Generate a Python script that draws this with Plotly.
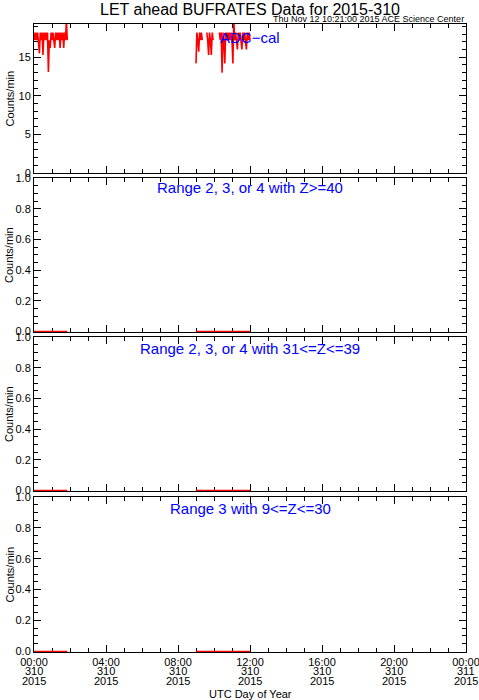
import plotly.graph_objects as go
from plotly.subplots import make_subplots

# ---- data (minutes of day 310, 2015) ----
adc_t1 = [0, 3, 6, 9, 12, 15, 18, 21, 24, 27, 30, 33, 36, 39, 42, 45, 48, 51, 54, 57,
          60, 63, 66, 69, 72, 75, 78, 81, 84, 87, 90, 93, 96, 99, 102, 105, 108, 111]
adc_v1 = [18.2, 17.2, 18.2, 17.2, 18.2, 17.2, 15.5, 18.2, 17.2, 18.2, 15.3, 18.2, 17.2, 18.2,
          17.2, 18.2, 13.1, 17.2, 16.2, 18.2, 17.2, 18.2, 17.2, 16.2, 18.2, 17.2, 18.2, 17.2,
          18.2, 16.2, 18.2, 17.2, 18.2, 16.2, 18.2, 17.2, 19.8, 17.2]

adc_t2 = [540, 543, 546, 549, 552, 555, 558, 561, 564,
          576, 579, 582, 585, 588, 591, 594, 597, 600,
          618, 621, 624, 627, 630, 633, 636, 639, 642, 645, 648, 651, 654, 657, 660, 663,
          666, 669, 672, 675, 678, 681, 684, 687, 690, 693, 696, 699, 702, 705, 708, 711,
          714, 717, 720]
adc_v2 = [14.2, 18.2, 17.2, 15.7, 18.2, 17.2, 18.2, 17.2, None,
          18.2, 17.2, 15.3, 18.2, 17.2, 15.3, 18.2, 17.2, None,
          18.2, 17.2, 18.2, 13.0, 18.2, 17.2, 14.2, 18.2, 17.2, 18.2, 17.2, 18.2, 17.2, 18.2,
          17.2, 14.2, 19.8, 17.2, 18.2, 17.2, 16.0, 18.2, 17.2, 18.2, 17.2, 16.0, 18.2, 17.2,
          18.2, 17.2, 16.0, 18.2, 17.2, 18.2, 17.2]

low_t = [0, 111, None, 540, 720]
low_v = [0, 0, None, 0, 0]

panel_labels = ["ADC−cal", "Range 2, 3, or 4 with Z>=40",
                "Range 2, 3, or 4 with 31<=Z<=39", "Range 3 with 9<=Z<=30"]
tick_hours = [0, 4, 8, 12, 16, 20, 24]
tick_time = ["00:00", "04:00", "08:00", "12:00", "16:00", "20:00", "00:00"]
tick_day = ["310", "310", "310", "310", "310", "310", "311"]
tick_year = ["2015"] * 7

W, H = 479, 700
L, R, T, B = 34, 13, 24, 48
plot_h = H - T - B
def fy(px):
    return (H - B - px) / plot_h

domains = [(fy(173), 1.0), (fy(332), fy(178)), (fy(491), fy(337)), (0.0, fy(497))]

fig = make_subplots(rows=4, cols=1, shared_xaxes=False)

red = dict(color="#ff0000", width=1.6)
fig.add_trace(go.Scatter(x=[t / 60 for t in adc_t1], y=adc_v1, mode="lines", line=red,
                         connectgaps=False, showlegend=False, hoverinfo="skip"), row=1, col=1)
fig.add_trace(go.Scatter(x=[t / 60 if t is not None else None for t in adc_t2], y=adc_v2,
                         mode="lines", line=red, connectgaps=False, showlegend=False,
                         hoverinfo="skip"), row=1, col=1)
for r in (2, 3, 4):
    fig.add_trace(go.Scatter(x=[t / 60 if t is not None else None for t in low_t], y=low_v,
                             mode="lines", line=dict(color="#ff0000", width=1.5),
                             connectgaps=False, showlegend=False, hoverinfo="skip"),
                  row=r, col=1)

font = "Liberation Sans, Arial, sans-serif"
for i in range(4):
    n = "" if i == 0 else str(i + 1)
    fig.layout["yaxis" + n].domain = domains[i]
    fig.layout["xaxis" + n].update(
        domain=[0, 1], range=[0, 24], tickvals=tick_hours,
        ticktext=tick_time if i == 3 else [""] * 7, automargin=False,
        ticklabeloverflow="allow",
        ticks="inside", ticklen=7, tickwidth=1, tickcolor="black",
        minor=dict(dtick=1, ticks="inside", ticklen=4, tickcolor="black"),
        showline=True, linecolor="black", linewidth=1, mirror="ticks",
        showgrid=False, zeroline=False, layer="below traces",
        tickfont=dict(family=font, size=11, color="black"))
    if i == 0:
        yr = [0, 19.3]; dt = 5; mdt = 1; tf = None
    else:
        yr = [-0.004, 1.0]; dt = 0.2; mdt = 0.05; tf = ".1f"
    fig.layout["yaxis" + n].update(
        range=yr, dtick=dt, tick0=0, tickformat=tf, automargin=False,
        ticks="inside", ticklen=7, tickwidth=1, tickcolor="black",
        minor=dict(dtick=mdt, tick0=0, ticks="inside", ticklen=4, tickcolor="black"),
        showline=True, linecolor="black", linewidth=1, mirror="ticks",
        showgrid=False, zeroline=False, layer="below traces",
        tickfont=dict(family=font, size=11, color="black"))

ann = []
label_y = [37, 187, 348, 508]
for i in range(4):
    ann.append(dict(text=panel_labels[i], x=0.5, y=fy(label_y[i]), xref="paper", yref="paper",
                    showarrow=False, xanchor="center", yanchor="middle",
                    font=dict(family=font, size=15, color="#0000ff")))
    ymid = (domains[i][0] + domains[i][1]) / 2
    ann.append(dict(text="Counts/min", x=-25 / (W - L - R), y=ymid, xref="paper", yref="paper",
                    showarrow=False, textangle=-90, xanchor="center", yanchor="middle",
                    font=dict(family=font, size=11, color="black")))
for h, d, yv in zip(tick_hours, tick_day, tick_year):
    ann.append(dict(text=d, x=h, y=fy(671), xref="x4", yref="paper", showarrow=False,
                    xanchor="center", yanchor="middle",
                    font=dict(family=font, size=11, color="black")))
    ann.append(dict(text=yv, x=h, y=fy(681), xref="x4", yref="paper", showarrow=False,
                    xanchor="center", yanchor="middle",
                    font=dict(family=font, size=11, color="black")))
ann.append(dict(text="LET ahead BUFRATES Data for 2015-310", x=0.5, y=fy(9), xref="paper",
                yref="paper", showarrow=False, xanchor="center", yanchor="middle",
                font=dict(family=font, size=16, color="black")))
ann.append(dict(text="Thu Nov 12 10:21:00 2015 ACE Science Center", x=1.0, y=fy(19),
                xref="paper", yref="paper", showarrow=False, xanchor="right", yanchor="middle",
                font=dict(family=font, size=9, color="black")))
ann.append(dict(text="UTC Day of Year", x=0.5, y=fy(694), xref="paper", yref="paper",
                showarrow=False, xanchor="center", yanchor="middle",
                font=dict(family=font, size=11, color="black")))

fig.update_layout(width=W, height=H, margin=dict(l=L, r=R, t=T, b=B, pad=0, autoexpand=False),
                  paper_bgcolor="white", plot_bgcolor="white", annotations=ann,
                  font=dict(family=font), hovermode=False)
fig.write_html("out.html", config={"displayModeBar": False, "staticPlot": True},
               post_script="document.body.style.margin='0';document.body.style.overflow='hidden';")
